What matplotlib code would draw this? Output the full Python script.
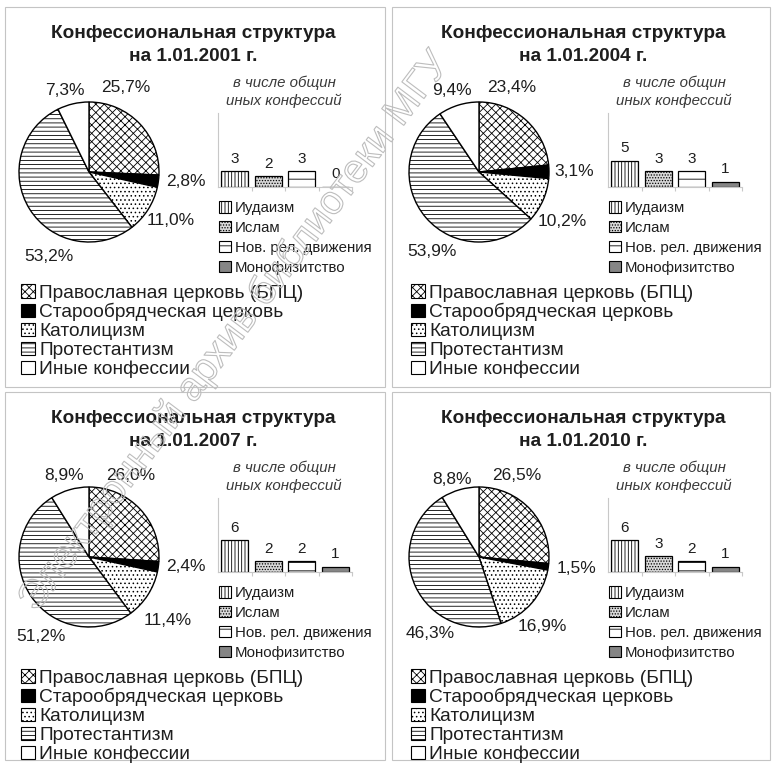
import matplotlib
matplotlib.use("Agg")
import matplotlib.pyplot as plt
import matplotlib.patheffects as pe
from matplotlib.patches import Patch, Rectangle

plt.rcParams["font.family"] = ["Liberation Sans", "DejaVu Sans"]
plt.rcParams["hatch.linewidth"] = 0.6
plt.rcParams["text.color"] = "#1e1e1e"

W, H = 773, 763

CONFESSIONS = ["Православная церковь (БПЦ)", "Старообрядческая церковь",
               "Католицизм", "Протестантизм", "Иные конфессии"]
OTHER_GROUPS = ["Иудаизм", "Ислам", "Нов. рел. движения", "Монофизитство"]

YEARS = ["2001", "2004", "2007", "2010"]

SHARES_2001 = [25.7, 2.8, 11.0, 53.2, 7.3]
SHARES_2004 = [23.4, 3.1, 10.2, 53.9, 9.4]
SHARES_2007 = [26.0, 2.4, 11.4, 51.2, 8.9]
SHARES_2010 = [26.5, 1.5, 16.9, 46.3, 8.8]

OTHER_2001 = [3, 2, 3, 0]
OTHER_2004 = [5, 3, 3, 1]
OTHER_2007 = [6, 2, 2, 1]
OTHER_2010 = [6, 3, 2, 1]

# label spots around each pie (pie data coords, radius = 1)
LABEL_XY_2001 = [(0.53, 1.20), (1.39, -0.14), (1.17, -0.69), (-0.57, -1.21), (-0.34, 1.17)]
LABEL_XY_2004 = [(0.46, 1.21), (1.36, 0.00), (1.19, -0.71), (-0.67, -1.14), (-0.39, 1.17)]
LABEL_XY_2007 = [(0.60, 1.16), (1.39, -0.14), (1.13, -0.91), (-0.69, -1.14), (-0.36, 1.16)]
LABEL_XY_2010 = [(0.54, 1.16), (1.39, -0.17), (0.90, -0.99), (-0.70, -1.10), (-0.39, 1.11)]

PIE_FACE  = ["white", "black", "white", "white", "white"]
PIE_HATCH = ["xxxx", "", "....", "----", ""]
BAR_FACE  = ["white", "#d8d8d8", "white", "#858585"]
BAR_HATCH = ["|||||", "......", "--", ""]


def px(x, y, w, h):
    return [x / W, 1 - (y + h) / H, w / W, h / H]


def pct(v):
    return f"{v:.1f}".replace(".", ",") + "%"


def draw_panel(fig, ox, oy, year, shares, counts, label_xy, box):
    bx0, by0, bw, bh = box
    fig.add_artist(Rectangle((bx0 / W, 1 - (by0 + bh) / H), bw / W, bh / H,
                             transform=fig.transFigure, fill=False,
                             edgecolor="#c4c4c4", linewidth=0.8))

    fig.text((ox + 193) / W, 1 - (oy + 45) / H,
             f"Конфессиональная структура\nна 1.01.{year} г.",
             ha="center", va="center", fontsize=13.7, fontweight="bold", linespacing=1.5)

    ax = fig.add_axes(px(ox + 19, oy + 102, 140, 140))
    wedges, _ = ax.pie(shares, startangle=90, counterclock=False, colors=PIE_FACE,
                       wedgeprops=dict(edgecolor="black", linewidth=1.0))
    for w, h in zip(wedges, PIE_HATCH):
        w.set_hatch(h)
    ax.set_xlim(-1.0, 1.0)
    ax.set_ylim(-1.0, 1.0)
    for v, (x, y) in zip(shares, label_xy):
        ax.text(x, y, pct(v), ha="center", va="center", fontsize=12.5)

    fig.text((ox + 284) / W, 1 - (oy + 92) / H, "в числе общин\nиных конфессий",
             ha="center", va="center", fontsize=10.8, style="italic",
             color="#3a3a3a", linespacing=1.35)

    bx = fig.add_axes(px(ox + 218, oy + 113, 134, 74))
    bars = bx.bar(range(len(counts)), counts, width=0.8, color=BAR_FACE,
                  edgecolor="black", linewidth=0.9)
    for b, h in zip(bars, BAR_HATCH):
        b.set_hatch(h)
    bx.bar_label(bars, padding=4, fontsize=11)
    bx.set_xlim(-0.5, 3.5)
    bx.set_ylim(0, 14)
    bx.set_facecolor("none")
    for s in ["top", "right"]:
        bx.spines[s].set_visible(False)
    for s in ["left", "bottom"]:
        bx.spines[s].set_color("#c8c8c8")
        bx.spines[s].set_linewidth(0.8)
    bx.set_yticks([])
    bx.set_xticks([0.5, 1.5, 2.5, 3.5])
    bx.set_xticklabels([])
    bx.tick_params(axis="x", length=3, color="#c8c8c8")

    small = [Patch(facecolor=f, edgecolor="black", hatch=h, linewidth=0.8)
             for f, h in zip(BAR_FACE, BAR_HATCH)]
    fig.legend(small, OTHER_GROUPS, loc="upper left",
               bbox_to_anchor=((ox + 219) / W, 1 - (oy + 201) / H),
               frameon=False, fontsize=10.8, handlelength=0.8, handleheight=0.8,
               handletextpad=0.25, labelspacing=0.39, borderpad=0, borderaxespad=0)

    big = [Patch(facecolor=f, edgecolor="black", hatch=h, linewidth=0.8)
           for f, h in zip(PIE_FACE, PIE_HATCH)]
    fig.legend(big, CONFESSIONS, loc="upper left",
               bbox_to_anchor=((ox + 21) / W, 1 - (oy + 284) / H),
               frameon=False, fontsize=13.8, handlelength=0.72, handleheight=0.72,
               handletextpad=0.22, labelspacing=0.075, borderpad=0, borderaxespad=0)


fig = plt.figure(figsize=(W / 100, H / 100), dpi=100)

draw_panel(fig, 0, 0, YEARS[0], SHARES_2001, OTHER_2001, LABEL_XY_2001, (5, 7, 380, 380))
draw_panel(fig, 390, 0, YEARS[1], SHARES_2004, OTHER_2004, LABEL_XY_2004, (392, 7, 378, 380))
draw_panel(fig, 0, 385, YEARS[2], SHARES_2007, OTHER_2007, LABEL_XY_2007, (5, 392, 380, 368))
draw_panel(fig, 390, 385, YEARS[3], SHARES_2010, OTHER_2010, LABEL_XY_2010, (392, 392, 378, 368))

# scan watermark
fig.text(234 / W, 1 - 332 / H, "Электронный архив библиотеки МГУ", ha="center", va="center",
         rotation=53, fontsize=29, color=(1, 1, 1, 0), zorder=10,
         path_effects=[pe.Stroke(linewidth=0.8, foreground="#bdbdbd")])

fig.savefig("out.png", dpi=100)
